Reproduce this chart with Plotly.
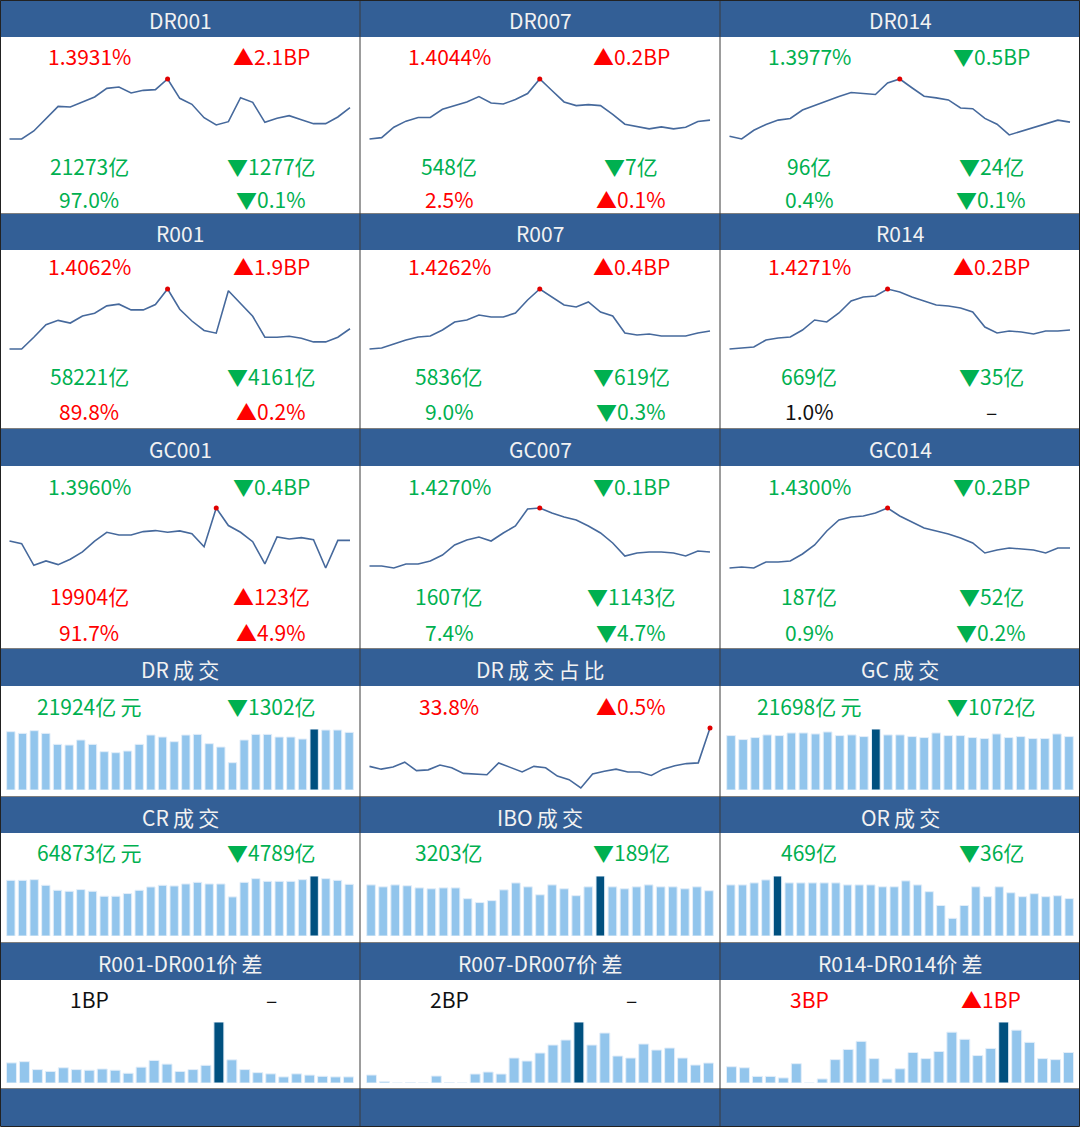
import plotly.graph_objects as go

W, H = 1080, 1127
BLUE = "#335F96"
RED = "#FF0000"
GREEN = "#00B050"
BLACK = "#111111"
LINE = "#46699C"
DOT = "#E00000"
BAR = "#92C5EC"
BAR_HI = "#00507F"
FONT = "Noto Sans CJK SC"
SP = "\u2009"

# ---------------- data ----------------
DR001 = [1.340, 1.340, 1.352, 1.370, 1.389, 1.388, 1.396, 1.403, 1.416, 1.418, 1.409, 1.413, 1.414, 1.430, 1.401,
         1.392, 1.372, 1.361, 1.366, 1.402, 1.395, 1.365, 1.371, 1.375, 1.369, 1.363, 1.363, 1.373, 1.387]
DR007 = [1.351, 1.353, 1.3685, 1.3775, 1.383, 1.383, 1.395, 1.401, 1.406, 1.414, 1.4045, 1.403, 1.4095, 1.4185, 1.440,
         1.423, 1.406, 1.4005, 1.402, 1.4005, 1.3875, 1.373, 1.370, 1.366, 1.369, 1.366, 1.3685, 1.377, 1.379]
DR014 = [1.345, 1.341, 1.354, 1.3625, 1.369, 1.3715, 1.384, 1.391, 1.3975, 1.404, 1.410, 1.409, 1.407, 1.424, 1.430,
         1.417, 1.4045, 1.402, 1.399, 1.387, 1.386, 1.3715, 1.363, 1.347, 1.3525, 1.359, 1.364, 1.369, 1.366]
R001 = [1.361, 1.361, 1.3785, 1.397, 1.4035, 1.3995, 1.410, 1.414, 1.425, 1.4275, 1.419, 1.419, 1.427, 1.450, 1.420,
        1.4025, 1.3885, 1.3845, 1.4475, 1.4285, 1.4095, 1.3785, 1.3785, 1.380, 1.377, 1.3715, 1.3715, 1.3785, 1.391]
R007 = [1.370, 1.3715, 1.3775, 1.3835, 1.388, 1.3895, 1.3985, 1.4105, 1.4135, 1.421, 1.418, 1.418, 1.424, 1.4435, 1.460,
        1.448, 1.436, 1.433, 1.4405, 1.4255, 1.4195, 1.394, 1.391, 1.3925, 1.3895, 1.3895, 1.3895, 1.394, 1.397]
R014 = [1.370, 1.3715, 1.373, 1.3835, 1.3865, 1.388, 1.3985, 1.4135, 1.4105, 1.424, 1.442, 1.448, 1.4495, 1.460, 1.4555,
        1.448, 1.442, 1.436, 1.4345, 1.4315, 1.4255, 1.403, 1.394, 1.397, 1.3955, 1.3925, 1.397, 1.397, 1.3985]
GC001 = [1.391, 1.387, 1.355, 1.3615, 1.356, 1.364, 1.375, 1.391, 1.404, 1.400, 1.400, 1.405, 1.4065, 1.404, 1.406,
         1.402, 1.3825, 1.440, 1.414, 1.404, 1.390, 1.357, 1.397, 1.394, 1.396, 1.393, 1.351, 1.392, 1.392]
GC007 = [1.373, 1.373, 1.370, 1.376, 1.376, 1.3805, 1.3895, 1.4045, 1.412, 1.4165, 1.4105, 1.4225, 1.433, 1.4585, 1.460,
         1.4525, 1.4465, 1.442, 1.433, 1.4225, 1.4075, 1.388, 1.3925, 1.394, 1.394, 1.3925, 1.388, 1.3955, 1.394]
GC014 = [1.370, 1.3715, 1.370, 1.379, 1.379, 1.3805, 1.391, 1.4045, 1.4255, 1.442, 1.4465, 1.448, 1.4525, 1.460, 1.448,
         1.439, 1.430, 1.4255, 1.421, 1.415, 1.4075, 1.3925, 1.397, 1.400, 1.3985, 1.397, 1.3925, 1.400, 1.400]

DR_SHARE = [33.25, 33.21, 33.24, 33.31, 33.19, 33.20, 33.27, 33.23, 33.15, 33.14, 33.13, 33.30, 33.23, 33.17, 33.25,
            33.23, 33.11, 33.06, 32.94, 33.14, 33.18, 33.21, 33.17, 33.17, 33.12, 33.21, 33.26, 33.29, 33.30, 33.80]

DR_VOL = [22210, 21570, 22590, 21570, 17390, 17130, 19040, 17390, 14590, 14210, 14850, 17390, 20940, 20180, 18400,
          20940, 21190, 17640, 16370, 10410, 19040, 21190, 21190, 20180, 20180, 19420, 23226, 22840, 22840, 21950]
GC_VOL = [20310, 18830, 19570, 20560, 20310, 21300, 21300, 20930, 21670, 20310, 20560, 19940, 22770, 20560, 20560,
          19940, 19570, 21300, 20310, 20310, 19570, 19200, 20930, 19570, 19940, 19200, 19200, 20930, 19940]
CR_VOL = [64660, 64660, 65430, 58890, 53110, 51960, 53880, 51960, 46190, 46190, 49270, 53110, 56960, 58890, 58120,
          60430, 62350, 60430, 60430, 45420, 62350, 66590, 63510, 63510, 63510, 65430, 69662, 66590, 64660, 60040]
IBO_VOL = [2890, 2780, 2890, 2840, 2720, 2670, 2720, 2720, 2110, 1890, 2000, 2610, 3000, 2780, 2330,
           2890, 2670, 2280, 2780, 3392, 2780, 2670, 2780, 2890, 2780, 2780, 2670, 2780, 2560]
OR_VOL = [430, 430, 447, 472, 505, 447, 447, 447, 447, 447, 430, 430, 430, 414, 414,
          464, 430, 373, 257, 149, 257, 414, 331, 414, 364, 331, 356, 331, 339, 315]

SPREAD_1 = [3.3, 3.5, 2.2, 1.9, 2.5, 2.2, 2.1, 2.3, 2.1, 1.6, 2.6, 3.7, 3.1, 1.9, 2.2, 2.9, 10.0, 3.8, 2.2, 1.7,
            1.5, 1.0, 1.5, 1.3, 1.1, 1.0, 1.0]
SPREAD_7 = [0.8, 0.13, 0.0, 0.03, 0.0, 0.7, 0.03, 0.0, 0.9, 1.1, 0.9, 2.5, 2.2, 3.0, 3.8, 4.3, 6.1, 3.8, 5.0, 2.7,
            2.5, 3.9, 3.3, 3.5, 2.5, 1.8, 2.0]
SPREAD_14 = [1.6, 1.5, 0.65, 0.65, 0.5, 1.9, 0.0, 0.4, 2.3, 3.3, 4.1, 2.4, 0.4, 1.4, 3.0, 2.4, 3.1, 5.0, 4.3, 2.7,
             3.4, 6.0, 5.2, 4.0, 2.4, 2.3, 3.0]

# texts: (left, color), (right, color) per text row
RATE_PANELS = [
    ("DR001", DR001, [("1.3931%", RED), ("▲2.1BP", RED), ("21273亿", GREEN), ("▼1277亿", GREEN), ("97.0%", GREEN), ("▼0.1%", GREEN)]),
    ("DR007", DR007, [("1.4044%", RED), ("▲0.2BP", RED), ("548亿", GREEN), ("▼7亿", GREEN), ("2.5%", RED), ("▲0.1%", RED)]),
    ("DR014", DR014, [("1.3977%", GREEN), ("▼0.5BP", GREEN), ("96亿", GREEN), ("▼24亿", GREEN), ("0.4%", GREEN), ("▼0.1%", GREEN)]),
    ("R001", R001, [("1.4062%", RED), ("▲1.9BP", RED), ("58221亿", GREEN), ("▼4161亿", GREEN), ("89.8%", RED), ("▲0.2%", RED)]),
    ("R007", R007, [("1.4262%", RED), ("▲0.4BP", RED), ("5836亿", GREEN), ("▼619亿", GREEN), ("9.0%", GREEN), ("▼0.3%", GREEN)]),
    ("R014", R014, [("1.4271%", RED), ("▲0.2BP", RED), ("669亿", GREEN), ("▼35亿", GREEN), ("1.0%", BLACK), ("–", BLACK)]),
    ("GC001", GC001, [("1.3960%", GREEN), ("▼0.4BP", GREEN), ("19904亿", RED), ("▲123亿", RED), ("91.7%", RED), ("▲4.9%", RED)]),
    ("GC007", GC007, [("1.4270%", GREEN), ("▼0.1BP", GREEN), ("1607亿", GREEN), ("▼1143亿", GREEN), ("7.4%", GREEN), ("▼4.7%", GREEN)]),
    ("GC014", GC014, [("1.4300%", GREEN), ("▼0.2BP", GREEN), ("187亿", GREEN), ("▼52亿", GREEN), ("0.9%", GREEN), ("▼0.2%", GREEN)]),
]
LOWER_PANELS = [
    ("DR成交", "bar", DR_VOL, [("21924亿元", GREEN), ("▼1302亿", GREEN)]),
    ("DR成交占比", "line", DR_SHARE, [("33.8%", RED), ("▲0.5%", RED)]),
    ("GC成交", "bar", GC_VOL, [("21698亿元", GREEN), ("▼1072亿", GREEN)]),
    ("CR成交", "bar", CR_VOL, [("64873亿元", GREEN), ("▼4789亿", GREEN)]),
    ("IBO成交", "bar", IBO_VOL, [("3203亿", GREEN), ("▼189亿", GREEN)]),
    ("OR成交", "bar", OR_VOL, [("469亿", GREEN), ("▼36亿", GREEN)]),
    ("R001-DR001价差", "bar", SPREAD_1, [("1BP", BLACK), ("–", BLACK)]),
    ("R007-DR007价差", "bar", SPREAD_7, [("2BP", BLACK), ("–", BLACK)]),
    ("R014-DR014价差", "bar", SPREAD_14, [("3BP", RED), ("▲1BP", RED)]),
]

# ---------------- layout geometry (pixels) ----------------
ROWS = [(0, 37, 213), (214, 250, 428), (429, 466, 648), (649, 686, 796), (797, 833, 942), (943, 980, 1088)]
FOOT = (1089, 1126)
RATE_Y = [(56, 166, 199, 79, 139), (266, 376, 411, 289, 349), (486, 596, 632, 508, 568)]
LOW_Y = [(706, 729, 790), (852, 876, 936), (999, 1022, 1083)]
LEFT_CX, RIGHT_CX = 89, 271

fig = go.Figure()
shapes = []
annotations = []
naxes = [0]


def px(x):
    return x / W


def py(y):
    return 1 - y / H


def spaced(s):
    # widen spacing around CJK characters, as in the original typeface
    out = ""
    for i, ch in enumerate(s):
        if i > 0 and ("\u4e00" <= ch <= "\u9fff") and ("\u4e00" <= s[i - 1] <= "\u9fff" or s[i - 1].isalpha()):
            out += SP
        out += ch
    return out


def add_axes(xdom, ydom, xr, yr):
    naxes[0] += 1
    s = "" if naxes[0] == 1 else str(naxes[0])
    fig.update_layout({
        "xaxis" + s: dict(domain=xdom, range=xr, visible=False, fixedrange=True, anchor="y" + s),
        "yaxis" + s: dict(domain=ydom, range=yr, visible=False, fixedrange=True, anchor="x" + s),
    })
    return "x" + s, "y" + s


def text(s, x, y, color, size=21):
    annotations.append(dict(text=s, x=px(x), y=py(y), xref="paper", yref="paper", showarrow=False,
                            xanchor="center", yanchor="middle",
                            font=dict(family=FONT, size=size, color=color)))


def line_chart(vals, col, top, bot, pad=4):
    n = len(vals)
    lo, hi = min(vals), max(vals)
    span = hi - lo
    ypad = span * pad / (bot - top)
    x0, x1 = col * 360 + 9.5, col * 360 + 350
    xpad = (n - 1) * pad / (x1 - x0)
    xa, ya = add_axes([px(x0 - pad), px(x1 + pad)], [py(bot + pad), py(top - pad)],
                      [-xpad, n - 1 + xpad], [lo - ypad, hi + ypad])
    fig.add_trace(go.Scatter(x=list(range(n)), y=vals, mode="lines", line=dict(color=LINE, width=1.6),
                             xaxis=xa, yaxis=ya, hoverinfo="skip", showlegend=False))
    im = vals.index(hi)
    fig.add_trace(go.Scatter(x=[im], y=[hi], mode="markers", marker=dict(color=DOT, size=5),
                             xaxis=xa, yaxis=ya, hoverinfo="skip", showlegend=False, cliponaxis=False))


def bar_chart(vals, col, top, bot, width):
    n = len(vals)
    hi = max(vals)
    x0, x1 = col * 360 + 5, col * 360 + 355
    xa, ya = add_axes([px(x0), px(x1)], [py(bot), py(top)], [-0.5, n - 0.5], [0, hi])
    colors = [BAR_HI if v == hi else BAR for v in vals]
    fig.add_trace(go.Bar(x=list(range(n)), y=vals, width=width,
                         marker=dict(color=colors, line=dict(color="#E3EEF9", width=1)),
                         xaxis=xa, yaxis=ya, hoverinfo="skip", showlegend=False, cliponaxis=False))


# headers
for (h0, h1, c1) in ROWS:
    shapes.append(dict(type="rect", xref="paper", yref="paper", x0=0, x1=1, y0=py(h1), y1=py(h0),
                       fillcolor=BLUE, line=dict(width=0), layer="below"))
shapes.append(dict(type="rect", xref="paper", yref="paper", x0=0, x1=1, y0=py(FOOT[1]), y1=py(FOOT[0]),
                   fillcolor=BLUE, line=dict(width=0), layer="below"))

# rate panels
for i, (title, vals, texts) in enumerate(RATE_PANELS):
    r, c = divmod(i, 3)
    h0, h1, c1 = ROWS[r]
    cx = c * 360
    text(title, cx + 180, (h0 + h1) / 2 + 1.5, "#F2F2F2", 21)
    ry, vy, ppy, top, bot = RATE_Y[r]
    for k, yy in enumerate((ry, vy, ppy)):
        (lt, lc), (rt, rc) = texts[2 * k], texts[2 * k + 1]
        text(lt, cx + LEFT_CX, yy, lc)
        text(rt, cx + RIGHT_CX, yy, rc)
    line_chart(vals, c, top, bot)

# lower panels
for i, (title, kind, vals, texts) in enumerate(LOWER_PANELS):
    r, c = divmod(i, 3)
    h0, h1, c1 = ROWS[r + 3]
    cx = c * 360
    text(spaced(title), cx + 180, (h0 + h1) / 2 + 1.5, "#F2F2F2", 21)
    ty, top, bot = LOW_Y[r]
    (lt, lc), (rt, rc) = texts
    text(spaced(lt), cx + LEFT_CX, ty, lc)
    text(rt, cx + RIGHT_CX, ty, rc)
    if kind == "line":
        line_chart(vals, c, top - 1, bot - 2)
    else:
        bar_chart(vals, c, top, bot, 0.72 if r < 2 else 0.77)

# grid lines
for (h0, h1, c1) in ROWS[1:]:
    shapes.append(dict(type="line", xref="paper", yref="paper", x0=0, x1=1, y0=py(h0 - 0.5), y1=py(h0 - 0.5),
                       line=dict(color="#7F7F7F", width=1)))
shapes.append(dict(type="line", xref="paper", yref="paper", x0=0, x1=1, y0=py(FOOT[0] - 0.5), y1=py(FOOT[0] - 0.5),
                   line=dict(color="#7F7F7F", width=1)))
for xx in (360, 720):
    shapes.append(dict(type="line", xref="paper", yref="paper", x0=px(xx), x1=px(xx), y0=py(FOOT[1]), y1=1,
                       line=dict(color="#3A3A3A", width=1)))
shapes.append(dict(type="rect", xref="paper", yref="paper", x0=px(0.5), x1=px(1079.5), y0=py(1126.5), y1=py(0.5),
                   line=dict(color="#222222", width=1), fillcolor="rgba(0,0,0,0)"))

fig.update_layout(width=W, height=H, margin=dict(l=0, r=0, t=0, b=0), paper_bgcolor="white",
                  plot_bgcolor="rgba(0,0,0,0)", shapes=shapes, annotations=annotations, showlegend=False,
                  font=dict(family=FONT))
fig.write_html("out.html", config={"displayModeBar": False})
